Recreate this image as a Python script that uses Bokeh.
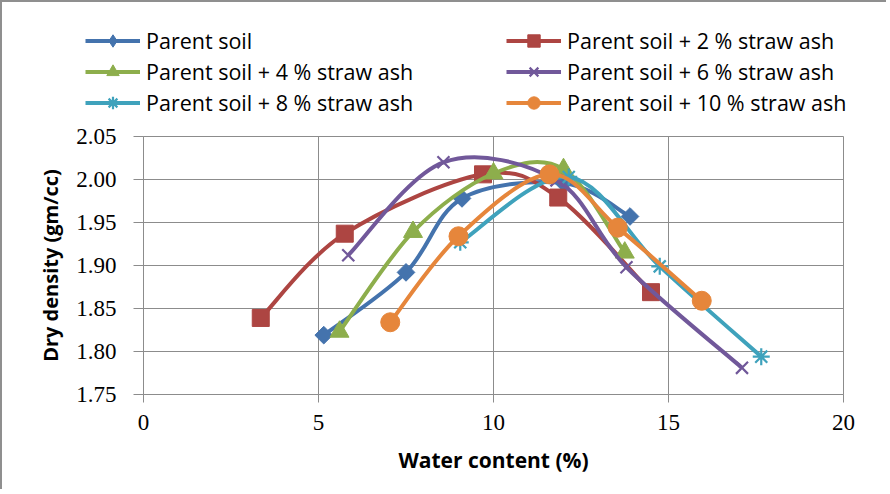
import math
from bokeh.plotting import figure
from bokeh.models import Range1d, FixedTicker, Legend, LegendItem, ColumnDataSource
from bokeh.embed import file_html
from bokeh.resources import INLINE

try:
    from bokeh.models import Spline
    HAS_SPLINE = True
except Exception:
    HAS_SPLINE = False

# ---- data ----
x_ticks = [0, 5, 10, 15, 20]
y_ticks = [1.75, 1.80, 1.85, 1.90, 1.95, 2.00, 2.05]
y_tick_labels = ["1.75", "1.80", "1.85", "1.90", "1.95", "2.00", "2.05"]

names = ["Parent soil",
         "Parent soil + 2 % straw ash",
         "Parent soil + 4 % straw ash",
         "Parent soil + 6 % straw ash",
         "Parent soil + 8 % straw ash",
         "Parent soil + 10 % straw ash"]

parent_x = [5.15, 7.5, 9.1, 12.0, 13.9]
parent_y = [1.819, 1.892, 1.978, 1.996, 1.957]
ash2_x = [3.35, 5.75, 9.7, 11.85, 14.5]
ash2_y = [1.839, 1.937, 2.006, 1.979, 1.869]
ash4_x = [5.6, 7.7, 10.0, 12.0, 13.75]
ash4_y = [1.823, 1.939, 2.007, 2.012, 1.915]
ash6_x = [5.85, 8.57, 11.8, 13.8, 17.1]
ash6_y = [1.912, 2.020, 1.999, 1.898, 1.781]
ash8_x = [9.05, 12.15, 14.75, 17.65]
ash8_y = [1.927, 2.003, 1.899, 1.794]
ash10_x = [7.05, 9.0, 11.6, 13.55, 15.95]
ash10_y = [1.834, 1.934, 2.006, 1.944, 1.859]

xs = [parent_x, ash2_x, ash4_x, ash6_x, ash8_x, ash10_x]
ys = [parent_y, ash2_y, ash4_y, ash6_y, ash8_y, ash10_y]

colors = ["#4473AD", "#AD4542", "#8DAE4C", "#71589A", "#3FA2BC", "#E6863B"]
markers = ["square", "square", "triangle", "x", "asterisk", "circle"]
legend_markers = ["diamond", "square", "triangle", "x", "asterisk", "circle"]
angles = [math.pi / 4, 0, 0, 0, 0, 0]
msizes = [12.5, 17, 19, 17, 17, 19]
legend_msizes = [16, 13, 14, 13, 13, 14]

FONT = "Open Sans"
BORDER = "2px solid #8f8f8f"

# ---------------- main chart ----------------
p = figure(width=886, height=375, output_backend="svg", toolbar_location=None,
           x_range=Range1d(0, 20), y_range=Range1d(1.75, 2.05),
           min_border_left=141, min_border_right=45,
           min_border_top=22, min_border_bottom=95)
p.styles = {"border-left": BORDER}
p.background_fill_color = "white"
p.border_fill_color = "white"
p.outline_line_color = "#8c8c8c"
p.outline_line_width = 1

p.xaxis.ticker = FixedTicker(ticks=x_ticks)
p.yaxis.ticker = FixedTicker(ticks=y_ticks)
p.yaxis.major_label_overrides = {t: l for t, l in zip(y_ticks, y_tick_labels)}
for ax in (p.xaxis[0], p.yaxis[0]):
    ax.axis_line_color = "#8c8c8c"
    ax.major_tick_line_color = "#8c8c8c"
    ax.minor_tick_line_color = None
    ax.major_tick_in = 0
    ax.major_label_text_font = "Liberation Serif"
    ax.major_label_text_font_size = "23px"
    ax.major_label_text_color = "black"
    ax.axis_label_text_font = FONT
    ax.axis_label_text_font_style = "bold"
    ax.axis_label_text_color = "black"
p.xaxis.axis_label_text_font_size = "21px"
p.yaxis.axis_label_text_font_size = "20px"
p.xaxis.major_tick_out = 8
p.yaxis.major_tick_out = 10
p.xaxis.major_label_standoff = 12
p.yaxis.major_label_standoff = 17
p.xaxis.axis_label = "Water content (%)"
p.yaxis.axis_label = "Dry density (gm/cc)"
p.xaxis.axis_label_standoff = 13
p.yaxis.axis_label_standoff = 9

p.xgrid.grid_line_color = "#8c8c8c"
p.ygrid.grid_line_color = "#8c8c8c"
p.xgrid.grid_line_width = 1
p.ygrid.grid_line_width = 1


def smooth_curve(x, y, color):
    """Smoothed connecting line (Excel-style) through the data points."""
    if HAS_SPLINE:
        src = ColumnDataSource(dict(x=x, y=y))
        return p.add_glyph(src, Spline(x="x", y="y", line_color=color,
                                       line_width=4, tension=0.5))
    n = len(x)
    x0s, y0s, x1s, y1s, c0x, c0y, c1x, c1y = [], [], [], [], [], [], [], []
    for k in range(n - 1):
        pa = (x[k - 1], y[k - 1]) if k > 0 else (x[k], y[k])
        pb = (x[k], y[k])
        pc = (x[k + 1], y[k + 1])
        pd = (x[k + 2], y[k + 2]) if k + 2 < n else (x[k + 1], y[k + 1])
        x0s.append(pb[0]); y0s.append(pb[1]); x1s.append(pc[0]); y1s.append(pc[1])
        c0x.append(pb[0] + (pc[0] - pa[0]) / 6); c0y.append(pb[1] + (pc[1] - pa[1]) / 6)
        c1x.append(pc[0] - (pd[0] - pb[0]) / 6); c1y.append(pc[1] - (pd[1] - pb[1]) / 6)
    return p.bezier(x0=x0s, y0=y0s, x1=x1s, y1=y1s, cx0=c0x, cy0=c0y,
                    cx1=c1x, cy1=c1y, line_color=color, line_width=4)


def add_markers(fig, i, mk, size, angle):
    c = colors[i]
    if mk in ("x", "asterisk"):
        return fig.scatter(xs[i], ys[i], marker=mk, size=size,
                           line_color=c, line_width=2.2, fill_color=None)
    return fig.scatter(xs[i], ys[i], marker=mk, size=size, angle=angle,
                       line_color=c, fill_color=c, line_width=1)


for i in range(6):
    smooth_curve(xs[i], ys[i], colors[i])
    add_markers(p, i, markers[i], msizes[i], angles[i])

# ---------------- legend strip (same series, legend only) ----------------
lf = figure(width=886, height=114, output_backend="svg", toolbar_location=None,
            x_range=Range1d(100, 101), y_range=Range1d(100, 101),
            x_axis_location=None, y_axis_location=None,
            min_border_left=0, min_border_right=0, min_border_top=0, min_border_bottom=0)
lf.styles = {"border-top": BORDER, "border-left": BORDER}
lf.xgrid.visible = False
lf.ygrid.visible = False
lf.outline_line_color = None
lf.background_fill_color = "white"
lf.border_fill_color = "white"

items = []
for i in range(6):
    ln = lf.line(xs[i], ys[i], line_color=colors[i], line_width=4)
    sc = add_markers(lf, i, legend_markers[i], legend_msizes[i], 0)
    items.append(LegendItem(label=names[i], renderers=[ln, sc]))


def make_legend(its, loc):
    return Legend(items=its, location=loc, orientation="vertical",
                  glyph_width=55, glyph_height=31, label_height=31,
                  label_standoff=6, spacing=0, padding=0, margin=0,
                  border_line_alpha=0, background_fill_alpha=0,
                  label_text_font=FONT, label_text_font_size="21.5px",
                  label_text_color="black")


lf.add_layout(make_legend([items[0], items[2], items[4]], (83, -2)))
lf.add_layout(make_legend([items[1], items[3], items[5]], (504, -2)))

open("out.html", "w").write(file_html([lf, p], INLINE))
